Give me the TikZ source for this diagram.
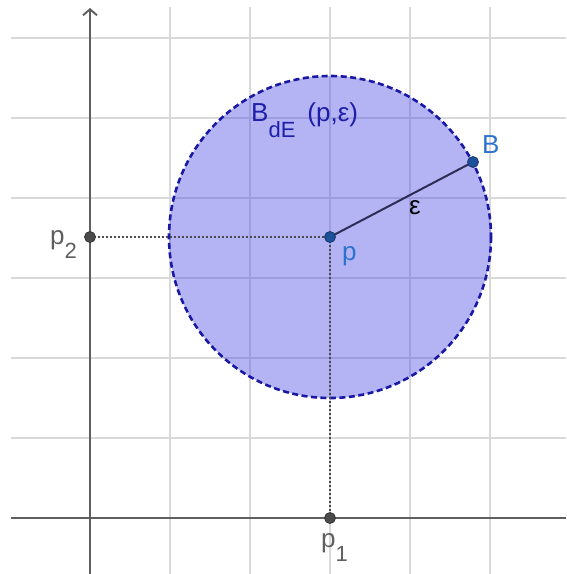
\documentclass[tikz,border=0pt]{standalone}
\usepackage{fontspec}
\setmainfont{Liberation Sans}
\usetikzlibrary{arrows.meta}
\definecolor{gridgray}{RGB}{217,217,217}
\definecolor{axisgray}{RGB}{95,95,95}
\definecolor{ballfill}{RGB}{60,60,230}
\definecolor{balledge}{RGB}{25,25,165}
\definecolor{ptblue}{RGB}{28,80,155}
\definecolor{lblblue}{RGB}{45,115,205}
\definecolor{titleblue}{RGB}{30,30,170}
\definecolor{segcol}{RGB}{45,45,85}
\definecolor{ptgray}{RGB}{75,75,75}
\definecolor{lblgray}{RGB}{95,95,95}
\begin{document}
\begin{tikzpicture}[x=1pt,y=-1pt,
  gridline/.style={draw=gridgray, line width=1.4pt},
  axisline/.style={draw=axisgray, line width=1.8pt},
  ball/.style={draw=balledge, fill=ballfill, fill opacity=0.38, line width=2.6pt, dash pattern=on 6pt off 3.5pt},
  bluept/.style={circle, fill=ptblue, draw=ptblue!70!black, line width=0.8pt, inner sep=0pt, minimum size=11pt},
  graypt/.style={circle, fill=ptgray, draw=ptgray!70!black, line width=0.8pt, inner sep=0pt, minimum size=11pt},
  dotline/.style={draw=ptgray, line width=1.7pt, dash pattern=on 1.7pt off 2.3pt},
  seg/.style={draw=segcol, line width=2pt},
  lbl/.style={inner sep=0pt, anchor=base west, font=\fontsize{26}{30}\selectfont},
]
\useasboundingbox (0,0) rectangle (566,574);
\fill[white] (0,0) rectangle (566,574);
% grid
\foreach \x in {170,250,330,410,490}
  \draw[gridline] (\x,7) -- (\x,574);
\foreach \y in {38,118,198,278,358,438}
  \draw[gridline] (11,\y) -- (566,\y);
% axes
\coordinate (xa) at (11,518);
\coordinate (xb) at (566,518);
\coordinate (ya) at (90,574);
\coordinate (yb) at (90,8);
\draw[axisline] (xa) -- (xb);
\draw[axisline, -{Straight Barb[length=6pt,width=14pt,line width=1.9pt]}] (ya) -- (yb);
% coordinates
\coordinate (pc) at (330,237);
\coordinate (Bc) at (473,162);
\coordinate (p1c) at (330,518);
\coordinate (p2c) at (90,237);
% ball
\draw[ball] (pc) circle[radius=161];
% dotted projections
\draw[dotline] (p2c) -- (pc);
\draw[dotline] (pc) -- (p1c);
% radius segment
\draw[seg] (pc) -- (Bc);
% points
\node[bluept] (p) at (pc) {};
\node[bluept] (B) at (Bc) {};
\node[graypt] (p1) at (p1c) {};
\node[graypt] (p2) at (p2c) {};
% labels
\node[lbl, text=lblblue] (plbl) at (342,260) {p};
\node[lbl, text=lblblue] (Blbl) at (482,153) {B};
\node[lbl, text=black] (eps) at (409,214) {ε};
\node[lbl, text=lblgray] (p2lbl) at (50,244) {p\raisebox{-14pt}{\fontsize{22}{24}\selectfont 2}};
\node[lbl, text=lblgray] (p1lbl) at (321,547) {p\raisebox{-14pt}{\fontsize{22}{24}\selectfont 1}};
\node[lbl, text=titleblue] (title) at (251,121) {B\raisebox{-16pt}{\fontsize{22}{24}\selectfont dE}\hspace{12pt}(p,ε)};
\end{tikzpicture}
\end{document}
